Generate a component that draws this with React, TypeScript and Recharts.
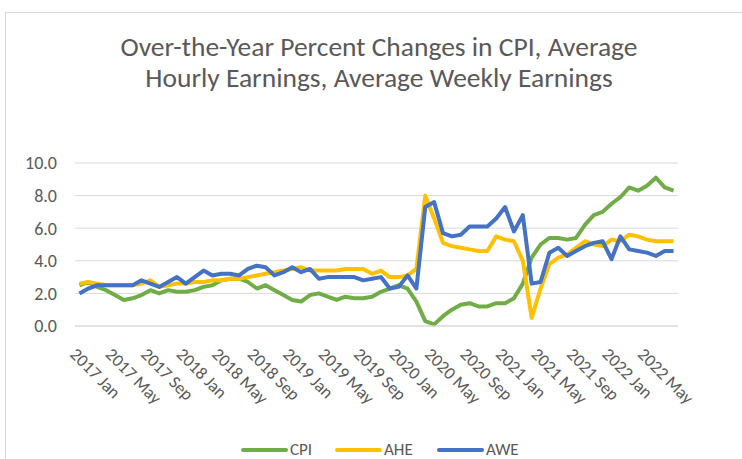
import React from 'react';
import { LineChart, Line, XAxis, YAxis, CartesianGrid } from 'recharts';

const years = ['2017', '2018', '2019', '2020', '2021', '2022'];
const monthNames = ['Jan', 'Feb', 'Mar', 'Apr', 'May', 'Jun', 'Jul', 'Aug', 'Sep', 'Oct', 'Nov', 'Dec'];
// 2017 Jan .. 2022 Aug
const categories = years.flatMap((y) => monthNames.map((m) => `${y} ${m}`)).slice(0, 68);

const cpi = [
  2.5, 2.7, 2.4, 2.2, 1.9, 1.6, 1.7, 1.9, 2.2, 2.0, 2.2, 2.1,
  2.1, 2.2, 2.4, 2.5, 2.8, 2.9, 2.9, 2.7, 2.3, 2.5, 2.2, 1.9,
  1.6, 1.5, 1.9, 2.0, 1.8, 1.6, 1.8, 1.7, 1.7, 1.8, 2.1, 2.3,
  2.5, 2.3, 1.5, 0.3, 0.1, 0.6, 1.0, 1.3, 1.4, 1.2, 1.2, 1.4,
  1.4, 1.7, 2.6, 4.2, 5.0, 5.4, 5.4, 5.3, 5.4, 6.2, 6.8, 7.0,
  7.5, 7.9, 8.5, 8.3, 8.6, 9.1, 8.5, 8.3,
];

const ahe = [
  2.6, 2.7, 2.6, 2.5, 2.5, 2.5, 2.5, 2.6, 2.8, 2.4, 2.5, 2.6,
  2.6, 2.7, 2.7, 2.8, 2.8, 2.9, 2.9, 3.0, 3.1, 3.2, 3.3, 3.4,
  3.5, 3.6, 3.4, 3.4, 3.4, 3.4, 3.5, 3.5, 3.5, 3.2, 3.4, 3.0,
  3.0, 3.1, 3.5, 8.0, 6.6, 5.1, 4.9, 4.8, 4.7, 4.6, 4.6, 5.5,
  5.3, 5.2, 4.0, 0.5, 2.3, 3.8, 4.2, 4.4, 4.8, 5.2, 5.0, 4.9,
  5.3, 5.2, 5.6, 5.5, 5.3, 5.2, 5.2, 5.2,
];

const awe = [
  2.0, 2.3, 2.5, 2.5, 2.5, 2.5, 2.5, 2.8, 2.6, 2.4, 2.7, 3.0,
  2.6, 3.0, 3.4, 3.1, 3.2, 3.2, 3.1, 3.5, 3.7, 3.6, 3.1, 3.3,
  3.6, 3.3, 3.5, 2.9, 3.0, 3.0, 3.0, 3.0, 2.8, 2.9, 3.0, 2.3,
  2.4, 3.1, 2.3, 7.3, 7.6, 5.7, 5.5, 5.6, 6.1, 6.1, 6.1, 6.6,
  7.3, 5.8, 6.8, 2.6, 2.7, 4.5, 4.8, 4.3, 4.6, 4.9, 5.1, 5.2,
  4.1, 5.5, 4.7, 4.6, 4.5, 4.3, 4.6, 4.6,
];

const yTicks = [0, 2, 4, 6, 8, 10];

const series = [
  { key: 'CPI', values: cpi, color: '#70AD47' },
  { key: 'AHE', values: ahe, color: '#FFC000' },
  { key: 'AWE', values: awe, color: '#4472C4' },
];

const data = categories.map((month, i) => {
  const row: Record<string, string | number> = { month };
  series.forEach((s) => {
    row[s.key] = s.values[i];
  });
  return row;
});

const FONT = "Carlito, 'Liberation Sans Narrow', Lato, sans-serif";
const TEXT = '#595959';

const XTick = ({ x, y, payload }: any) => (
  <g transform={`translate(${x - 6},${y + 25})`}>
    <text transform="rotate(45)" textAnchor="start" dy="0.35em" fill={TEXT} fontSize={17.5} fontFamily={FONT}>
      {payload.value}
    </text>
  </g>
);

export default function App() {
  return (
    <div style={{ position: 'absolute', left: 0, top: 0, width: 742, height: 459, background: '#fff', overflow: 'hidden' }}>
      <div style={{ position: 'absolute', left: 5, top: 12, width: 800, height: 500, border: '1px solid #d9d9d9' }} />
      <div
        style={{
          position: 'absolute',
          left: 0,
          top: 31,
          width: 758,
          textAlign: 'center',
          fontFamily: FONT,
          fontSize: 27.5,
          fontWeight: 300,
          lineHeight: '31px',
          color: TEXT,
        }}
      >
        Over-the-Year Percent Changes in CPI, Average
        <br />
        Hourly Earnings, Average Weekly Earnings
      </div>
      <div style={{ position: 'absolute', left: 0, top: 0 }}>
        <LineChart width={742} height={459} data={data} margin={{ top: 163, right: 64, bottom: 73, left: 0 }}>
          <CartesianGrid vertical={false} stroke="#d9d9d9" />
          <XAxis
            dataKey="month"
            interval={3}
            height={60}
            tickLine={false}
            tickSize={0}
            tickMargin={0}
            axisLine={{ stroke: '#d9d9d9' }}
            padding={{ left: 4.43, right: 4.43 }}
            tick={<XTick />}
          />
          <YAxis
            width={75}
            domain={[0, 10]}
            ticks={yTicks}
            tickFormatter={(v: number) => v.toFixed(1)}
            axisLine={false}
            tickLine={false}
            tickSize={0}
            tickMargin={18}
            tick={{ fill: TEXT, fontSize: 18, fontFamily: FONT }}
          />
          {series.map((s) => (
            <Line
              key={s.key}
              type="linear"
              dataKey={s.key}
              stroke={s.color}
              strokeWidth={4}
              strokeLinejoin="round"
              dot={false}
              isAnimationActive={false}
            />
          ))}
        </LineChart>
      </div>
      <div
        style={{
          position: 'absolute',
          left: 241,
          top: 441,
          height: 18,
          display: 'flex',
          alignItems: 'center',
          fontFamily: FONT,
          fontSize: 17,
          lineHeight: '18px',
          color: TEXT,
        }}
      >
        {series.map((s, i) => (
          <div key={s.key} style={{ display: 'flex', alignItems: 'center', width: i === 0 ? 94 : 102 }}>
            <div style={{ width: 47, height: 4, borderRadius: 2, background: s.color, marginRight: 2 }} />
            <span>{s.key}</span>
          </div>
        ))}
      </div>
    </div>
  );
}
